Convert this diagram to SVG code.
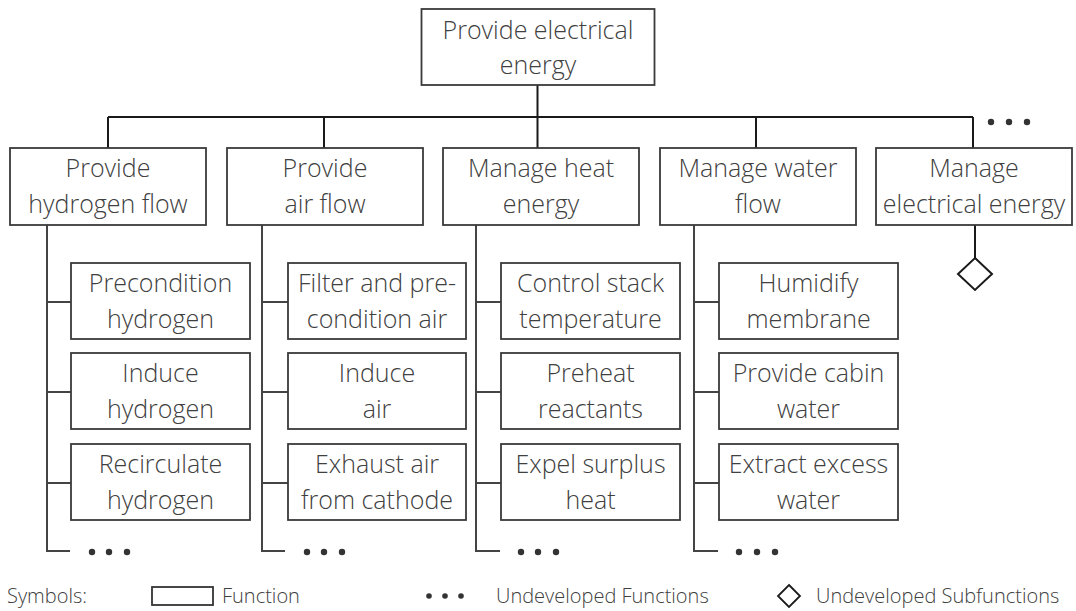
<svg xmlns="http://www.w3.org/2000/svg" width="1076" height="611" viewBox="0 0 1076 611">
  <style>
    .box { fill: #ffffff; stroke: #3a3a3a; stroke-width: 1.8; }
    .lbl { font-family: "Open Sans", "Noto Sans", "Liberation Sans", sans-serif; font-size: 25px; font-weight: 300; fill: #404040; text-anchor: middle; }
    .leg { font-family: "Open Sans", "Noto Sans", "Liberation Sans", sans-serif; font-size: 20px; font-weight: 300; fill: #404040; }
    .wire { fill: none; stroke: #1a1a1a; stroke-width: 2; }
    .branch { fill: none; stroke: #444444; stroke-width: 2; }
    .dot { fill: #333333; }
  </style>
  <rect width="1076" height="611" fill="#ffffff"/>

  <!-- connectors -->
  <g id="connectors">
    <path class="wire" d="M537.5 85 V148 M108 117 H973 M108 117 V148 M324 117 V148 M756 117 V148 M973 117 V148"/>
    <path class="wire" d="M975 225 V258"/>
    <!-- group trunks with elbows to the undeveloped dots -->
    <path class="branch" d="M47 225 V551 H70 M47 302 H71 M47 392 H71 M47 483 H71"/>
    <path class="branch" d="M262 225 V551 H285 M262 302 H288 M262 392 H288 M262 483 H288"/>
    <path class="branch" d="M476 225 V551 H500 M476 302 H501 M476 392 H501 M476 483 H501"/>
    <path class="branch" d="M694 225 V551 H718 M694 302 H719 M694 392 H719 M694 483 H719"/>
  </g>

  <!-- undeveloped function dots -->
  <g id="undeveloped">
    <circle class="dot" cx="991" cy="122" r="3.2"/><circle class="dot" cx="1009" cy="122" r="3.2"/><circle class="dot" cx="1027" cy="122" r="3.2"/>
    <circle class="dot" cx="92" cy="552" r="3.2"/><circle class="dot" cx="109" cy="552" r="3.2"/><circle class="dot" cx="127" cy="552" r="3.2"/>
    <circle class="dot" cx="307" cy="552" r="3.2"/><circle class="dot" cx="324" cy="552" r="3.2"/><circle class="dot" cx="342" cy="552" r="3.2"/>
    <circle class="dot" cx="521" cy="552" r="3.2"/><circle class="dot" cx="538" cy="552" r="3.2"/><circle class="dot" cx="556" cy="552" r="3.2"/>
    <circle class="dot" cx="739" cy="552" r="3.2"/><circle class="dot" cx="757" cy="552" r="3.2"/><circle class="dot" cx="775" cy="552" r="3.2"/>
    <path d="M975 258 L992 274 L975 290 L958 274 Z" fill="#ffffff" stroke="#1a1a1a" stroke-width="2"/>
  </g>

  <!-- root function -->
  <g id="root">
    <rect class="box" x="421.5" y="9" width="233" height="76"/>
    <text class="lbl" x="538" y="39">Provide electrical</text>
    <text class="lbl" x="538" y="74">energy</text>
  </g>

  <!-- first level functions -->
  <g id="f-hydrogen">
    <rect class="box" x="10" y="148" width="196" height="77"/>
    <text class="lbl" x="108" y="177">Provide</text>
    <text class="lbl" x="108" y="213">hydrogen flow</text>
  </g>
  <g id="f-air">
    <rect class="box" x="227" y="148" width="196" height="77"/>
    <text class="lbl" x="325" y="177">Provide</text>
    <text class="lbl" x="325" y="213">air flow</text>
  </g>
  <g id="f-heat">
    <rect class="box" x="443" y="148" width="196" height="77"/>
    <text class="lbl" x="541" y="177">Manage heat</text>
    <text class="lbl" x="541" y="213">energy</text>
  </g>
  <g id="f-water">
    <rect class="box" x="660" y="148" width="196" height="77"/>
    <text class="lbl" x="758" y="177">Manage water</text>
    <text class="lbl" x="758" y="213">flow</text>
  </g>
  <g id="f-electrical">
    <rect class="box" x="876" y="148" width="196" height="77"/>
    <text class="lbl" x="974" y="177">Manage</text>
    <text class="lbl" x="974" y="213">electrical energy</text>
  </g>

  <!-- hydrogen subfunctions -->
  <g id="h1"><rect class="box" x="71" y="263" width="179" height="76"/><text class="lbl" x="160.5" y="292">Precondition</text><text class="lbl" x="160.5" y="328">hydrogen</text></g>
  <g id="h2"><rect class="box" x="71" y="353" width="179" height="76"/><text class="lbl" x="160.5" y="382">Induce</text><text class="lbl" x="160.5" y="418">hydrogen</text></g>
  <g id="h3"><rect class="box" x="71" y="444" width="179" height="76"/><text class="lbl" x="160.5" y="473">Recirculate</text><text class="lbl" x="160.5" y="509">hydrogen</text></g>

  <!-- air subfunctions -->
  <g id="a1"><rect class="box" x="288" y="263" width="178" height="76"/><text class="lbl" x="377" y="292">Filter and pre-</text><text class="lbl" x="377" y="328">condition air</text></g>
  <g id="a2"><rect class="box" x="288" y="353" width="178" height="76"/><text class="lbl" x="377" y="382">Induce</text><text class="lbl" x="377" y="418">air</text></g>
  <g id="a3"><rect class="box" x="288" y="444" width="178" height="76"/><text class="lbl" x="377" y="473">Exhaust air</text><text class="lbl" x="377" y="509">from cathode</text></g>

  <!-- heat subfunctions -->
  <g id="t1"><rect class="box" x="501" y="263" width="179" height="76"/><text class="lbl" x="590.5" y="292">Control stack</text><text class="lbl" x="590.5" y="328">temperature</text></g>
  <g id="t2"><rect class="box" x="501" y="353" width="179" height="76"/><text class="lbl" x="590.5" y="382">Preheat</text><text class="lbl" x="590.5" y="418">reactants</text></g>
  <g id="t3"><rect class="box" x="501" y="444" width="179" height="76"/><text class="lbl" x="590.5" y="473">Expel surplus</text><text class="lbl" x="590.5" y="509">heat</text></g>

  <!-- water subfunctions -->
  <g id="w1"><rect class="box" x="719" y="263" width="179" height="76"/><text class="lbl" x="808.5" y="292">Humidify</text><text class="lbl" x="808.5" y="328">membrane</text></g>
  <g id="w2"><rect class="box" x="719" y="353" width="179" height="76"/><text class="lbl" x="808.5" y="382">Provide cabin</text><text class="lbl" x="808.5" y="418">water</text></g>
  <g id="w3"><rect class="box" x="719" y="444" width="179" height="76"/><text class="lbl" x="808.5" y="473">Extract excess</text><text class="lbl" x="808.5" y="509">water</text></g>

  <!-- legend -->
  <g id="legend">
    <text class="leg" x="7" y="603">Symbols:</text>
    <rect x="152" y="587" width="61" height="18" fill="#ffffff" stroke="#333333" stroke-width="1.8"/>
    <text class="leg" x="222" y="603">Function</text>
    <circle class="dot" cx="429" cy="596" r="2.8"/><circle class="dot" cx="445" cy="596" r="2.8"/><circle class="dot" cx="461" cy="596" r="2.8"/>
    <text class="leg" x="496" y="603">Undeveloped Functions</text>
    <path d="M789 585 L800 596 L789 607 L778 596 Z" fill="#ffffff" stroke="#1a1a1a" stroke-width="1.8"/>
    <text class="leg" x="816" y="603">Undeveloped Subfunctions</text>
  </g>
</svg>
